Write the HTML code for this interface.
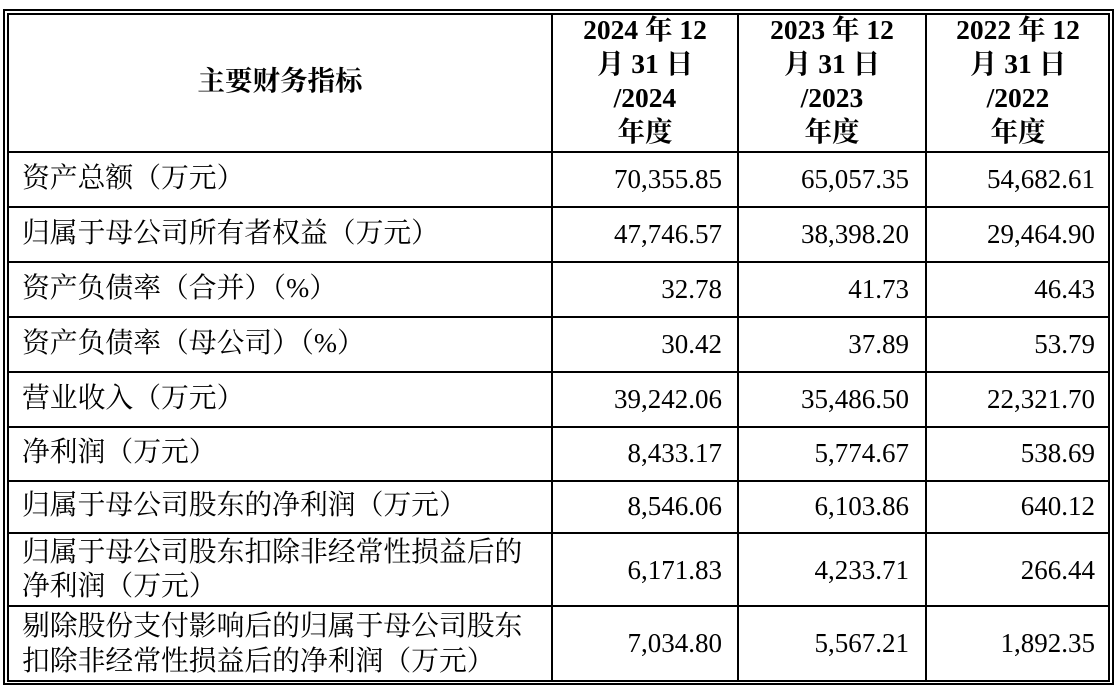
<!DOCTYPE html>
<html><head><meta charset="utf-8"><style>
body{margin:0;width:1118px;height:686px;background:#fff;position:relative;overflow:hidden;font-family:"Liberation Serif","Noto Serif CJK SC",serif;color:#000}
.b{position:absolute;border:2px solid #000;box-sizing:border-box}
.h{position:absolute;height:2px;background:#000;left:7px;width:1102px}
.v{position:absolute;width:2px;background:#000;top:13px;height:668px}
.t{position:absolute;font-size:27px;line-height:30px;white-space:nowrap}
.l{left:22px;font-size:27.8px}
.n{text-align:right}
.hd{position:absolute;font-weight:bold;font-size:27.5px;line-height:34px;text-align:center;white-space:nowrap}
</style></head><body>
<div class="b" style="left:3px;top:9px;width:1111px;height:676px"></div>
<div class="b" style="left:7px;top:13px;width:1103px;height:669px"></div>
<div class="v" style="left:551px"></div>
<div class="v" style="left:737px"></div>
<div class="v" style="left:925px"></div>
<div class="h" style="top:151px"></div>
<div class="h" style="top:206px"></div>
<div class="h" style="top:261px"></div>
<div class="h" style="top:316px"></div>
<div class="h" style="top:371px"></div>
<div class="h" style="top:426px"></div>
<div class="h" style="top:480px"></div>
<div class="h" style="top:532px"></div>
<div class="h" style="top:605px"></div>

<div class="hd" style="left:9px;width:542px;top:64px">主要财务指标</div>
<div class="hd" style="left:553px;width:184px;top:13px">2024 年 12<br>月 31 日<br>/2024<br>年度</div>
<div class="hd" style="left:739px;width:186px;top:13px">2023 年 12<br>月 31 日<br>/2023<br>年度</div>
<div class="hd" style="left:927px;width:182px;top:13px">2022 年 12<br>月 31 日<br>/2022<br>年度</div>

<div class="t l" style="top:164px">资产总额（万元）</div>
<div class="t l" style="top:219px">归属于母公司所有者权益（万元）</div>
<div class="t l" style="top:274px">资产负债率（合并）（%）</div>
<div class="t l" style="top:329px">资产负债率（母公司）（%）</div>
<div class="t l" style="top:384px">营业收入（万元）</div>
<div class="t l" style="top:438px">净利润（万元）</div>
<div class="t l" style="top:491px">归属于母公司股东的净利润（万元）</div>
<div class="t l" style="top:536px;line-height:34px">归属于母公司股东扣除非经常性损益后的<br>净利润（万元）</div>
<div class="t l" style="top:609px;line-height:35px">剔除股份支付影响后的归属于母公司股东<br>扣除非经常性损益后的净利润（万元）</div>

<div class="t n" style="right:396px;top:164px">70,355.85</div>
<div class="t n" style="right:209px;top:164px">65,057.35</div>
<div class="t n" style="right:23px;top:164px">54,682.61</div>
<div class="t n" style="right:396px;top:219px">47,746.57</div>
<div class="t n" style="right:209px;top:219px">38,398.20</div>
<div class="t n" style="right:23px;top:219px">29,464.90</div>
<div class="t n" style="right:396px;top:274px">32.78</div>
<div class="t n" style="right:209px;top:274px">41.73</div>
<div class="t n" style="right:23px;top:274px">46.43</div>
<div class="t n" style="right:396px;top:329px">30.42</div>
<div class="t n" style="right:209px;top:329px">37.89</div>
<div class="t n" style="right:23px;top:329px">53.79</div>
<div class="t n" style="right:396px;top:384px">39,242.06</div>
<div class="t n" style="right:209px;top:384px">35,486.50</div>
<div class="t n" style="right:23px;top:384px">22,321.70</div>
<div class="t n" style="right:396px;top:438px">8,433.17</div>
<div class="t n" style="right:209px;top:438px">5,774.67</div>
<div class="t n" style="right:23px;top:438px">538.69</div>
<div class="t n" style="right:396px;top:491px">8,546.06</div>
<div class="t n" style="right:209px;top:491px">6,103.86</div>
<div class="t n" style="right:23px;top:491px">640.12</div>
<div class="t n" style="right:396px;top:555px">6,171.83</div>
<div class="t n" style="right:209px;top:555px">4,233.71</div>
<div class="t n" style="right:23px;top:555px">266.44</div>
<div class="t n" style="right:396px;top:628px">7,034.80</div>
<div class="t n" style="right:209px;top:628px">5,567.21</div>
<div class="t n" style="right:23px;top:628px">1,892.35</div>
</body></html>
